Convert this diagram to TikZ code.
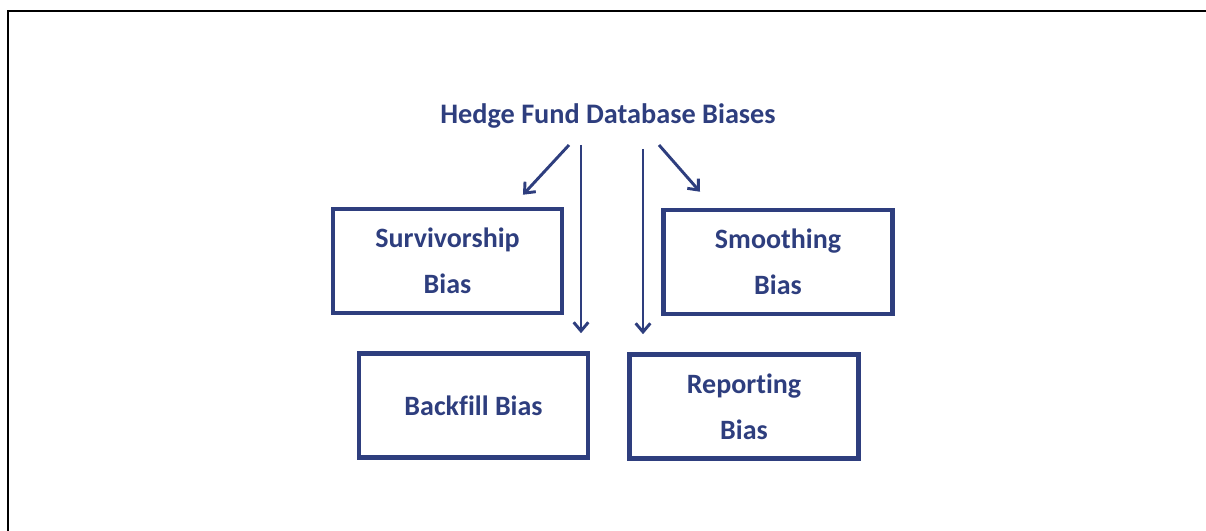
\documentclass[tikz,border=0pt]{standalone}
\usepackage{fontspec}
\setmainfont{Carlito}[Ligatures=NoCommon]
\usetikzlibrary{arrows.meta}
\definecolor{navy}{RGB}{46,62,126}
\begin{document}
\begin{tikzpicture}[x=0.75pt,y=-0.75pt,
  frameline/.style={draw=black, line width=1.5pt},
  heading/.style={text=navy, font=\bfseries\fontsize{21.2}{26}\selectfont, inner sep=0pt},
  biasbox/.style={draw=navy, line width=3.4pt, text=navy,
    font=\bfseries\fontsize{21}{34.5}\selectfont, align=center,
    minimum width=172pt, minimum height=78pt, inner sep=0pt},
  link/.style={draw=navy, line width=2.2pt,
    -{Straight Barb[length=6.5pt,width=11pt,line width=2.2pt]}}]
\useasboundingbox (0,0) rectangle (1206,531);
% open frame: top and left edges only
\draw[frameline] (8,531) -- (8,11) -- (1206,11);

\node[heading, anchor=base] (title) at (608,124) {Hedge Fund Database Biases};

\node[biasbox] (surv)   at (447.5,261)   {Survivorship\\Bias};
\node[biasbox] (smooth) at (778,262)     {Smoothing\\Bias};
\node[biasbox] (back)   at (473.5,405.5) {Backfill Bias};
\node[biasbox] (rep)    at (744,406.5)   {Reporting\\Bias};

% start points of the four connectors, just below the heading
\coordinate (s1) at ([xshift=-29.25pt,yshift=-15.75pt]title.base);
\coordinate (s2) at ([xshift=-20.25pt,yshift=-15.75pt]title.base);
\coordinate (s3) at ([xshift=26.25pt,yshift=-18.75pt]title.base);
\coordinate (s4) at ([xshift=38.25pt,yshift=-15.75pt]title.base);
\coordinate (e2) at (s2 |- back.north);
\coordinate (e3) at (s3 |- rep.north);

\draw[link] (s1) -- ([xshift=56.6pt,yshift=9pt]surv.north);
\draw[link] (s2) -- ([yshift=13.5pt]e2);
\draw[link] (s3) -- ([yshift=13.5pt]e3);
\draw[link] (s4) -- ([xshift=-58.5pt,yshift=12pt]smooth.north);
\end{tikzpicture}
\end{document}
